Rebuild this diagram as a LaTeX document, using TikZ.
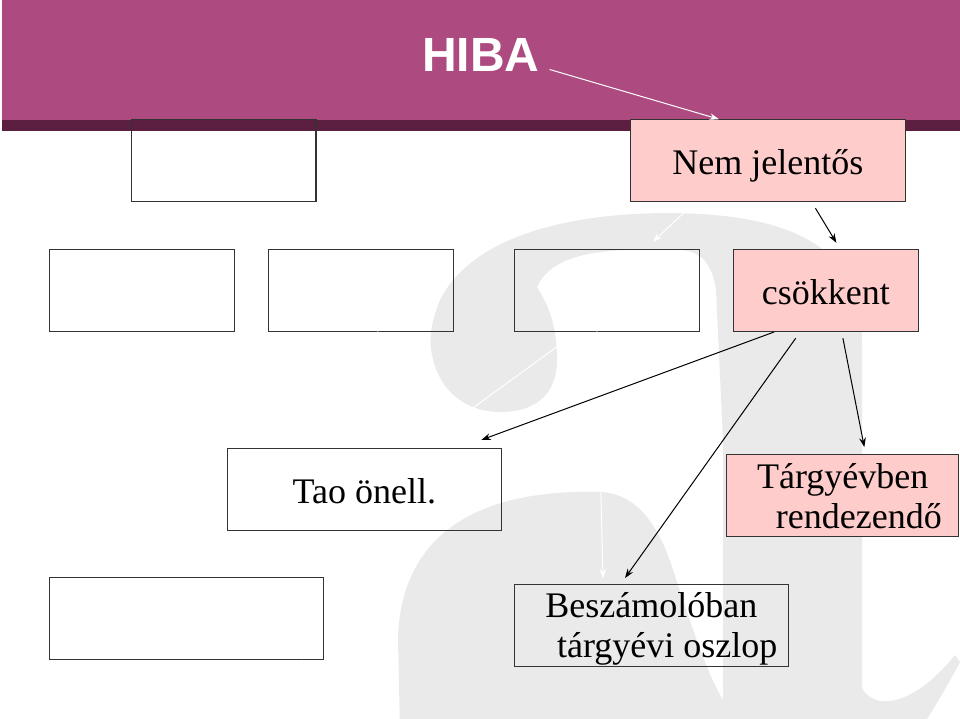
\documentclass[tikz,border=0pt]{standalone}
\usepackage{fontspec}
\setmainfont{Liberation Serif}
\newfontfamily\headfont{Liberation Sans}
\usepackage{tikz}
\usetikzlibrary{arrows.meta}
\usetikzlibrary{calc}
\usetikzlibrary{positioning}
\definecolor{SlideMagenta}{HTML}{AD4B81}
\definecolor{SlideStripe}{HTML}{5C1F41}
\definecolor{BoxPink}{HTML}{FFCCCC}
\definecolor{MarkGrey}{HTML}{E9EAE9}
\definecolor{BoxLine}{HTML}{333333}
\tikzset{
    box/.style={draw=BoxLine, line width=0.8pt, inner sep=0pt, outer sep=0pt,
        minimum height=61.5pt, font=\fontsize{27pt}{30pt}\selectfont},
    onebox/.style={box, text height=21pt, text depth=0pt},
    twobox/.style={box, align=center, text depth=0pt},
    pinkbox/.style={fill=BoxPink},
    arr/.style={line width=0.75pt, draw=black, -{Stealth[length=7pt,width=5pt]}},
    warr/.style={arr, draw=white},
}

\begin{document}
\begin{tikzpicture}[x=0.75pt,y=-0.75pt]
    \useasboundingbox (0,0) rectangle (960,718);
    \fill[white] (0,0) rectangle (960,718);
    \fill[SlideMagenta] (2,0) rectangle (960,120);
    \fill[SlideStripe] (2,120) rectangle (960,130.5);
    \begin{scope}
        \clip (0,0) rectangle (960,718);
        \fill[MarkGrey] (537,287) .. controls (548,262) and (580,251) .. (630,250)
            -- (680,250) .. controls (700,251) and (712,262) .. (716,290)
            -- (723,440) -- (723,730) -- (862,730) -- (862,340)
            .. controls (862,262) and (815,214) .. (670,213)
            .. controls (560,213) and (470,240) .. (440,300)
            .. controls (428,330) and (430,345) .. (432,355)
            .. controls (440,395) and (470,412) .. (500,412)
            .. controls (540,412) and (557,390) .. (557,360)
            .. controls (557,320) and (545,300) .. cycle;
        \fill[MarkGrey] (602,492) .. controls (470,488) and (400,540) .. (398,640)
            -- (400,730) -- (723,730) -- (723,700)
            .. controls (705,670) and (690,620) .. (672,567)
            .. controls (660,530) and (640,495) .. cycle;
        \fill[MarkGrey] (862,688) .. controls (875,712) and (915,705) .. (955,655)
            -- (960,662) .. controls (945,690) and (930,715) .. (920,730)
            -- (862,730) -- cycle;
    \end{scope}
    \node[inner sep=0pt, text=white,
        font=\headfont\bfseries\fontsize{36pt}{36pt}\selectfont] (hiba) at (480.7,54.7) {HIBA};
    \node[box, minimum width=138.3pt] (top) at (223.8,160.3) {};
    \node[onebox, pinkbox, minimum width=205.7pt] (nem) at (767.9,160.2) {Nem jelentős};
    \node[box, minimum width=138.75pt] (rowA) at (141.8,290.4) {};
    \node[box, minimum width=138.75pt] (rowB) at (360.8,290.4) {};
    \node[box, minimum width=138.75pt] (rowC) at (606.9,290.4) {};
    \node[onebox, pinkbox, minimum width=138.75pt] (csokk) at (825.9,290.4) {csökkent};
    \node[onebox, minimum width=205.5pt] (tao) at (364.3,489.2) {Tao önell.};
    \node[twobox, pinkbox, minimum width=174.2pt] (targy) at (842.8,495.8)
        {Tárgyévben\\\hspace*{24pt}rendezendő};
    \node[box, minimum width=205.5pt] (lower) at (186.3,618.8) {};
    \node[twobox, minimum width=205.5pt] (besz) at (651.3,625.3)
        {Beszámolóban\\\hspace*{24pt}tárgyévi oszlop};
    \coordinate (exitA) at (163,718);
    \coordinate (exitB) at (301.7,718);
    \draw[warr] ($(hiba.south east)+(10,-2)$) -- ($(nem.north)+(-49,0)$);
    \draw[warr] ($(nem.south)+(-78,6)$) -- ($(rowC.north)+(46,-7.6)$);
    \draw[warr] ($(rowC.south)+(-10,0)$) -- ($(besz.north)+(-48.3,-6)$);
    \draw[warr] ($(rowC.south)+(-34.5,4)$) -- ($(tao.north)+(64.4,-8)$);
    \draw[warr] ($(rowB.south)+(17,0)$) -- ($(tao.north)+(13.6,-8)$);
    \draw[white, line width=0.75pt] ($(lower.south)+(-23.3,0)$) -- (exitA);
    \draw[white, line width=0.75pt] ($(lower.south)+(115.4,0)$) -- (exitB);
    \draw[arr] ($(nem.south)+(47.5,7)$) -- ($(csokk.north)+(10.5,-6.6)$);
    \draw[arr] ($(csokk.south)+(-51.6,0.5)$) -- ($(tao.north)+(117.1,-8.3)$);
    \draw[arr] ($(csokk.south)+(-30.2,6.8)$) -- ($(besz.north)+(-26.3,-6.3)$);
    \draw[arr] ($(csokk.south)+(17,6.8)$) -- ($(targy.north)+(21.5,-7.7)$);
\end{tikzpicture}
\end{document}
